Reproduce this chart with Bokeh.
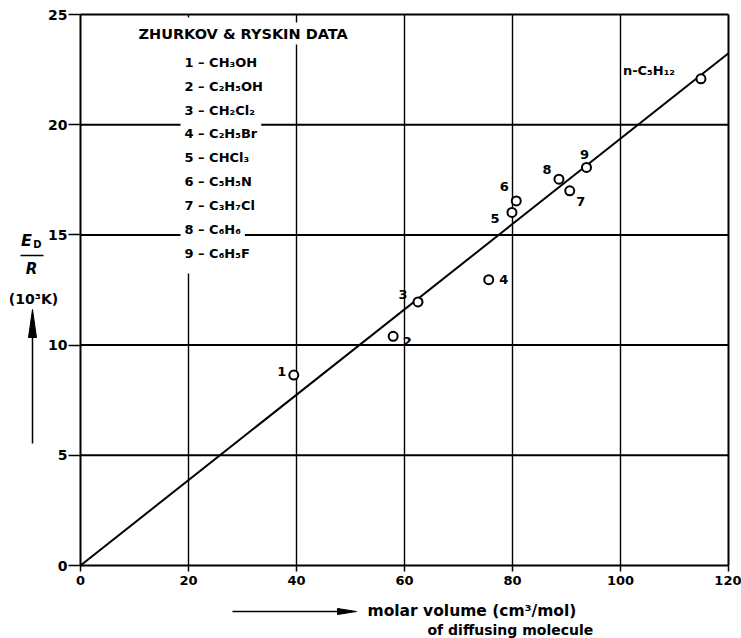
from bokeh.plotting import figure
from bokeh.models import Label, Range1d, FixedTicker
from bokeh.embed import file_html
from bokeh.resources import INLINE

# ---- data ----
molar_volume = [39.5, 57.9, 62.5, 75.6, 79.9, 80.7, 90.6, 88.6, 93.7, 114.9]
activation = [8.64, 10.40, 11.96, 12.97, 16.02, 16.54, 17.00, 17.53, 18.06, 22.08]
point_labels = ["1", "2", "3", "4", "5", "6", "7", "8", "9", "n-C₅H₁₂"]
fit_x = [0, 120]
fit_y = [0, 23.24]
legend_title = "ZHURKOV & RYSKIN DATA"
legend_items = ["1 – CH₃OH", "2 – C₂H₅OH", "3 – CH₂Cl₂", "4 – C₂H₅Br", "5 – CHCl₃",
                "6 – C₅H₅N", "7 – C₃H₇Cl", "8 – C₆H₆", "9 – C₆H₅F"]
x_ticks = [0, 20, 40, 60, 80, 100, 120]
y_ticks = [0, 5, 10, 15, 20, 25]

# ---- style / layout ----
FONT = "DejaVu Sans"
lbl_dx = [-12, 14, -15, 15, -17, -12, 11, -12, -2, -52]
lbl_dy = [4, -5, 7, 0, -6, 14, -11, 10, 13, 8]

W, H = 741, 638
X0PX, X1PX = 80, 728      # pixel of x=0 and x=120
Y0PX, Y1PX = 565, 14      # pixel of y=0 and y=25
SX = (X1PX - X0PX) / (x_ticks[-1] - x_ticks[0])
SY = (Y0PX - Y1PX) / (y_ticks[-1] - y_ticks[0])


def px2x(px):
    return (px - X0PX) / SX


def px2y(py):
    return (Y0PX - py) / SY


p = figure(width=W, height=H,
           x_range=Range1d(px2x(0), px2x(W)), y_range=Range1d(px2y(H), px2y(0)),
           output_backend="svg", toolbar_location=None, min_border=0)
p.outline_line_color = None
p.background_fill_color = "white"
p.border_fill_color = "white"
p.grid.visible = False

p.xaxis.ticker = FixedTicker(ticks=x_ticks)
p.yaxis.ticker = FixedTicker(ticks=y_ticks)
p.xaxis.fixed_location = y_ticks[0]
p.yaxis.fixed_location = x_ticks[0]
p.xaxis.bounds = (x_ticks[0], x_ticks[-1])
p.yaxis.bounds = (y_ticks[0], y_ticks[-1])
for ax in (p.xaxis[0], p.yaxis[0]):
    ax.axis_line_color = "black"
    ax.axis_line_width = 2
    ax.major_tick_line_color = "black"
    ax.major_tick_line_width = 1.5
    ax.major_tick_in = 0
    ax.minor_tick_out = 0
    ax.minor_tick_in = 0
    ax.major_label_text_font = FONT
    ax.major_label_text_color = "black"
    ax.major_label_text_font_style = "bold"
p.xaxis.major_tick_out = 6
p.yaxis.major_tick_out = 12
p.xaxis.major_label_standoff = 4
p.yaxis.major_label_standoff = 1
p.xaxis.major_label_text_font_size = "13px"
p.yaxis.major_label_text_font_size = "14px"

# grid lines (and plot box) drawn from the tick arrays
hy = y_ticks[1:]
p.segment(x0=[x_ticks[0]] * len(hy), y0=hy, x1=[x_ticks[-1]] * len(hy), y1=hy,
          line_color="black", line_width=2)
vx = x_ticks[1:-1]
p.segment(x0=vx, y0=[y_ticks[0]] * len(vx), x1=vx, y1=[y_ticks[-1]] * len(vx),
          line_color="black", line_width=1.4)
p.segment(x0=[x_ticks[-1]], y0=[y_ticks[0]], x1=[x_ticks[-1]], y1=[y_ticks[-1]],
          line_color="black", line_width=2)

# mask upper part of the x=20 grid line (behind the legend block)
p.quad(left=[px2x(184)], right=[px2x(192)], bottom=[px2y(273)], top=[px2y(17)],
       fill_color="white", line_color=None)

# fit line and data points
p.line(fit_x, fit_y, line_color="black", line_width=2)
p.scatter(molar_volume, activation, marker="circle", size=9, fill_color="white",
          line_color="black", line_width=2)

for xv, yv, t, dx, dy in zip(molar_volume, activation, point_labels, lbl_dx, lbl_dy):
    bg = "white" if len(t) > 1 else None
    p.add_layout(Label(x=xv, y=yv, text=t, x_offset=dx, y_offset=dy,
                       text_align="center", text_baseline="middle", text_color="black",
                       text_font=FONT, text_font_size="13px", text_font_style="bold",
                       background_fill_color=bg, padding=1))


def plab(px, py, text, size="13px", style="bold", align="center", bg=None, pad=0):
    p.add_layout(Label(x=px2x(px), y=px2y(py), text=text, text_align=align,
                       text_baseline="middle", text_font=FONT, text_font_size=size,
                       text_font_style=style, text_color="black",
                       background_fill_color=bg, padding=pad))


# legend block
plab(135, 33, legend_title, "14.5px", align="left", bg="white", pad=3)
for i, t in enumerate(legend_items):
    plab(180, 61.7 + i * 23.9, t, align="left", bg="white", pad=4)

# y axis label: E_D / R, (10^3 K), upward arrow
plab(26, 240, "E", "16px", "bold italic")
plab(37, 244, "D", "10px")
p.segment(x0=[px2x(20)], y0=[px2y(255)], x1=[px2x(43)], y1=[px2y(255)],
          line_color="black", line_width=1.5)
plab(31, 268, "R", "15px", "bold italic")
plab(33, 298, "(10³K)", "14px")
p.segment(x0=[px2x(32)], y0=[px2y(443)], x1=[px2x(32)], y1=[px2y(330)],
          line_color="black", line_width=1.5)
p.patch(x=[px2x(32), px2x(28), px2x(36)], y=[px2y(309), px2y(337), px2y(337)],
        fill_color="black", line_color="black", line_width=1)

# x axis label: arrow + two text lines
p.segment(x0=[px2x(232)], y0=[px2y(611)], x1=[px2x(340)], y1=[px2y(611)],
          line_color="black", line_width=1.5)
p.patch(x=[px2x(356), px2x(337), px2x(337)], y=[px2y(611), px2y(608), px2y(614)],
        fill_color="black", line_color="black", line_width=1)
plab(367, 610, "molar volume (cm³/mol)", "15.5px", align="left")
plab(427, 629, "of diffusing molecule", "14px", align="left")

open("out.html", "w").write(file_html(p, INLINE))
